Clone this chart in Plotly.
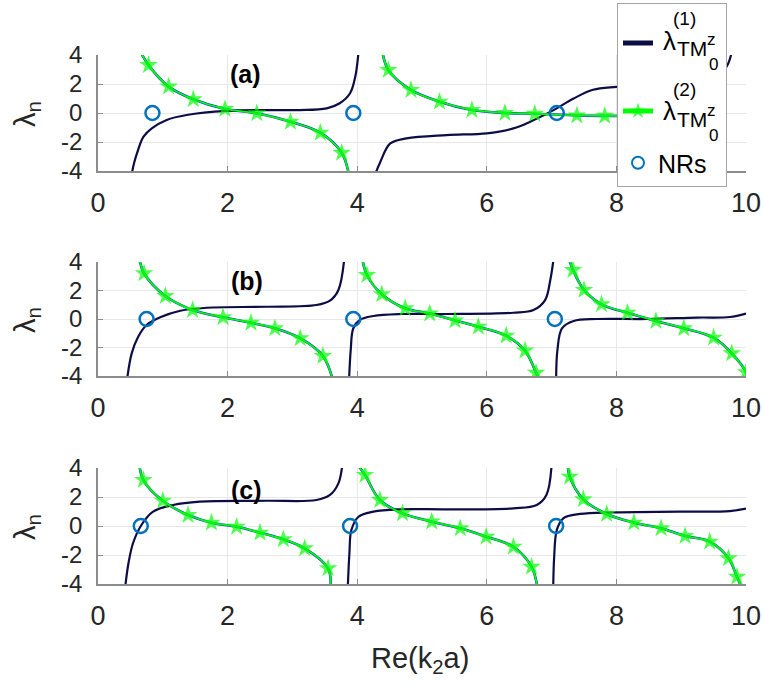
import plotly.graph_objects as go

W, H = 763, 687
FONT = "Liberation Sans"

# ---------------- data ----------------
X_TICKS = [0, 2, 4, 6, 8, 10]
Y_TICKS = [-4, -2, 0, 2, 4]
Y_TICKTEXT = ["-4", "-2", "0", "2", "4"]
PANEL_LABELS = ["(a)", "(b)", "(c)"]

# lambda^(1) curves (segments between poles)
A_L1_X = [[0.52, 0.56, 0.60, 0.70, 0.83, 1.06, 1.37, 1.99, 2.60, 3.11, 3.53, 3.73, 3.89, 3.97, 4.02],
          [4.28, 4.35, 4.51, 4.76, 5.38, 6.00, 6.41, 6.67, 7.03, 7.34, 7.64, 8.00, 8.50, 9.00, 9.40, 9.68, 9.78]]
A_L1_Y = [[-4.2, -3.4, -2.8, -1.64, -1.06, -0.48, -0.14, 0.14, 0.20, 0.20, 0.32, 0.67, 1.36, 2.5, 4.2],
          [-4.2, -3.45, -2.1, -1.75, -1.52, -1.40, -1.06, -0.60, 0.20, 1.00, 1.60, 1.80, 1.95, 2.10, 2.45, 3.08, 4.2]]

B_L1_X = [[0.45, 0.52, 0.62, 0.75, 0.96, 1.27, 1.68, 2.60, 3.37, 3.58, 3.71, 3.80],
          [3.875, 3.90, 3.94, 4.04, 4.25, 4.66, 5.38, 6.41, 6.72, 6.90, 6.98, 7.03],
          [7.07, 7.09, 7.16, 7.34, 7.70, 8.47, 9.24, 9.75, 10.0]]
B_L1_Y = [[-4.2, -2.41, -1.24, -0.42, 0.12, 0.58, 0.79, 0.86, 0.98, 1.29, 2.04, 4.2],
          [-4.2, -2.18, -0.65, -0.07, 0.21, 0.35, 0.35, 0.44, 0.63, 1.33, 2.74, 4.2],
          [-4.2, -2.18, -0.65, -0.14, 0.0, 0.0, 0.10, 0.14, 0.38]]

C_L1_X = [[0.42, 0.47, 0.54, 0.67, 0.85, 1.16, 1.57, 2.60, 3.37, 3.58, 3.71, 3.77],
          [3.855, 3.88, 3.91, 4.02, 4.25, 4.66, 5.38, 6.41, 6.77, 6.92, 7.00],
          [7.025, 7.04, 7.08, 7.18, 7.44, 7.95, 8.98, 9.75, 10.0]]
C_L1_Y = [[-4.2, -2.57, -1.19, 0.07, 0.99, 1.45, 1.68, 1.74, 1.79, 2.14, 2.94, 4.2],
          [-4.2, -1.88, -0.28, 0.64, 0.99, 1.15, 1.15, 1.22, 1.45, 2.14, 4.2],
          [-4.2, -2.12, -0.28, 0.53, 0.83, 0.94, 0.99, 1.03, 1.20]]

# lambda^(2) curves: first/last point of each segment = where the curve leaves the axes,
# the points in between carry the star markers
A_L2_X = [[0.66, 0.78, 1.09, 1.47, 1.96, 2.45, 2.97, 3.43, 3.76, 3.87],
          [4.39, 4.48, 4.83, 5.27, 5.77, 6.28, 6.74, 7.39, 7.82, 8.30, 8.80, 9.30, 9.50]]
A_L2_Y = [[4.2, 3.3, 1.82, 0.95, 0.28, -0.02, -0.60, -1.36, -2.74, -4.2],
          [4.2, 2.97, 1.59, 0.78, 0.21, 0.00, -0.05, -0.17, -0.20, -0.21, -0.22, -0.22, -0.22]]

B_L2_X = [[0.64, 0.71, 1.04, 1.46, 1.93, 2.36, 2.73, 3.12, 3.47, 3.62],
          [4.08, 4.15, 4.38, 4.74, 5.12, 5.51, 5.87, 6.30, 6.59, 6.76, 6.80],
          [7.27, 7.33, 7.50, 7.77, 8.17, 8.61, 9.04, 9.50, 9.78, 10.0, 10.03]]
B_L2_Y = [[4.2, 3.21, 1.61, 0.63, 0.12, -0.26, -0.65, -1.35, -2.6, -4.2],
          [4.2, 3.09, 1.74, 0.75, 0.38, -0.10, -0.55, -1.17, -2.22, -3.77, -4.2],
          [4.2, 3.44, 2.04, 1.03, 0.44, -0.14, -0.65, -1.31, -2.41, -3.74, -4.3]]

C_L2_X = [[0.64, 0.70, 1.00, 1.39, 1.75, 2.14, 2.50, 2.86, 3.19, 3.55, 3.59],
          [4.01, 4.12, 4.35, 4.70, 5.15, 5.59, 5.99, 6.41, 6.69, 6.78],
          [7.25, 7.28, 7.49, 7.85, 8.27, 8.69, 9.06, 9.44, 9.73, 9.86, 9.93]]
C_L2_Y = [[4.2, 3.17, 1.74, 0.76, 0.23, -0.05, -0.46, -0.92, -1.54, -2.92, -4.2],
          [4.2, 3.52, 1.79, 0.87, 0.30, -0.16, -0.74, -1.43, -2.81, -4.2],
          [4.2, 3.4, 1.84, 0.83, 0.23, -0.16, -0.69, -1.08, -2.23, -3.5, -4.2]]

# natural resonances
A_NR_X = [0.84, 3.94, 7.08]
B_NR_X = [0.75, 3.94, 7.05]
C_NR_X = [0.66, 3.89, 7.07]
NR_Y = [0, 0, 0]

PANELS = [
    (A_L1_X, A_L1_Y, A_L2_X, A_L2_Y, A_NR_X),
    (B_L1_X, B_L1_Y, B_L2_X, B_L2_Y, B_NR_X),
    (C_L1_X, C_L1_Y, C_L2_X, C_L2_Y, C_NR_X),
]

# ---------------- helpers ----------------
def flatten(segs):
    out = []
    for i, s in enumerate(segs):
        if i:
            out.append(None)
        out.extend(s)
    return out

def star_sizes(segs, size):
    out = []
    for i, s in enumerate(segs):
        if i:
            out.append(0)
        out.extend([0] + [size] * (len(s) - 2) + [0])
    return out

# pixel geometry of the three panels (margins are zero: paper == page)
X0, X1 = 98, 746
PANEL_PY = [(55, 171), (262, 376), (468, 584)]

def px(x):
    return x / W

def py(y):
    return 1 - y / H

NB = "&nbsp;"
DARK = "#0d0d45"
GREEN = "#00ff00"
BLUE = "#1030e0"
NRCOL = "#0072BD"
TXT = "#262626"

fig = go.Figure()
for i, (l1x, l1y, l2x, l2y, nrx) in enumerate(PANELS):
    xa = "x" if i == 0 else f"x{i+1}"
    ya = "y" if i == 0 else f"y{i+1}"
    first = (i == 0)
    fig.add_trace(go.Scatter(x=flatten(l2x), y=flatten(l2y), xaxis=xa, yaxis=ya, mode="lines",
                             line=dict(color=BLUE, width=2.6, shape="spline", smoothing=1.0),
                             showlegend=False, hoverinfo="skip"))
    fig.add_trace(go.Scatter(x=flatten(l1x), y=flatten(l1y), xaxis=xa, yaxis=ya, mode="lines",
                             line=dict(color=DARK, width=2.2, shape="spline", smoothing=1.0),
                             name=NB * 9 + "<br>" + NB, showlegend=first, legendrank=1))
    fig.add_trace(go.Scatter(x=flatten(l2x), y=flatten(l2y), xaxis=xa, yaxis=ya, mode="lines+markers",
                             line=dict(color=GREEN, width=1.8, shape="spline", smoothing=1.0),
                             marker=dict(symbol="star", color=GREEN, size=star_sizes(l2x, 14),
                                         line=dict(width=0)),
                             name=NB * 9 + "<br>" + NB, showlegend=first, legendrank=2))
    fig.add_trace(go.Scatter(x=nrx, y=NR_Y, xaxis=xa, yaxis=ya, mode="markers",
                             marker=dict(symbol="circle-open", color=NRCOL, size=14,
                                         line=dict(width=2.5, color=NRCOL)),
                             name="NRs", showlegend=first, legendrank=3))

layout = dict(
    width=W, height=H,
    margin=dict(l=0, r=0, t=0, b=0, autoexpand=False),
    paper_bgcolor="white", plot_bgcolor="white",
    showlegend=True,
    legend=dict(x=617 / W, y=1 - 3 / H, xanchor="left", yanchor="top",
                bgcolor="white", bordercolor="#a6a6a6", borderwidth=1,
                font=dict(family=FONT, size=25, color="#000000"),
                itemsizing="constant", traceorder="normal"),
)

for i, (top, bot) in enumerate(PANEL_PY):
    xn = "xaxis" if i == 0 else f"xaxis{i+1}"
    yn = "yaxis" if i == 0 else f"yaxis{i+1}"
    ya = "y" if i == 0 else f"y{i+1}"
    xa = "x" if i == 0 else f"x{i+1}"
    layout[xn] = dict(domain=[X0 / W, X1 / W], anchor=ya, range=[0, 10], tickvals=X_TICKS,
                      showgrid=True, gridcolor="#e8e8e8", gridwidth=1, zeroline=False,
                      showline=True, linecolor="#8c8c8c", linewidth=1.5,
                      ticks="inside", ticklen=5, tickcolor="#8c8c8c", tickwidth=1,
                      tickfont=dict(family=FONT, size=27, color=TXT), ticklabelstandoff=7,
                      automargin=False)
    layout[yn] = dict(domain=[1 - bot / H, 1 - top / H], anchor=xa, range=[-4, 4],
                      tickvals=Y_TICKS, ticktext=Y_TICKTEXT,
                      showgrid=True, gridcolor="#e8e8e8", gridwidth=1, zeroline=False,
                      showline=True, linecolor="#8c8c8c", linewidth=1.5,
                      ticks="inside", ticklen=5, tickcolor="#8c8c8c", tickwidth=1,
                      tickfont=dict(family=FONT, size=24, color=TXT), ticklabelstandoff=9,
                      automargin=False)

fig.update_layout(**layout)

ann = []
LABEL_POS = [(2.28, 2.69), (2.30, 2.67), (2.29, 2.48)]
for i, lab in enumerate(PANEL_LABELS):
    xa = "x" if i == 0 else f"x{i+1}"
    ya = "y" if i == 0 else f"y{i+1}"
    ann.append(dict(text="<b>" + lab + "</b>", x=LABEL_POS[i][0], y=LABEL_POS[i][1], xref=xa, yref=ya,
                    showarrow=False, xanchor="center", yanchor="middle",
                    font=dict(family=FONT, size=25, color="#000000")))
# y titles
for (top, bot) in PANEL_PY:
    ann.append(dict(text="λ<sub>n</sub>", x=px(27), y=py((top + bot) / 2 + 1), xref="paper", yref="paper",
                    textangle=-90, showarrow=False, xanchor="center", yanchor="middle",
                    font=dict(family=FONT, size=29, color=TXT)))
# x title
ann.append(dict(text="Re(k<sub>2</sub>a)", x=px(420), y=py(660), xref="paper", yref="paper",
                showarrow=False, xanchor="center", yanchor="middle",
                font=dict(family=FONT, size=29, color=TXT)))

# legend label texts (stacked super/subscripts)
for k, (num, cy) in enumerate([("(1)", 40), ("(2)", 110)]):
    ann += [
        dict(text="λ", x=px(669), y=py(cy + 1), font=dict(family=FONT, size=26, color="#000000")),
        dict(text=num, x=px(684.5), y=py(cy - 21), font=dict(family=FONT, size=19, color="#000000")),
        dict(text="TM", x=px(691.5), y=py(cy + 9), font=dict(family=FONT, size=21, color="#000000")),
        dict(text="z", x=px(711), y=py(cy), font=dict(family=FONT, size=17, color="#000000")),
        dict(text="0", x=px(713), y=py(cy + 25), font=dict(family=FONT, size=17, color="#000000")),
    ]
for a in ann[-10:]:
    a.update(xref="paper", yref="paper", showarrow=False, xanchor="center", yanchor="middle")

fig.update_layout(annotations=ann)
fig.write_html("out.html", config={"displayModeBar": False},
               post_script="document.body.style.margin='0px';document.body.style.padding='0px';"
                           "document.body.style.overflow='hidden';")
